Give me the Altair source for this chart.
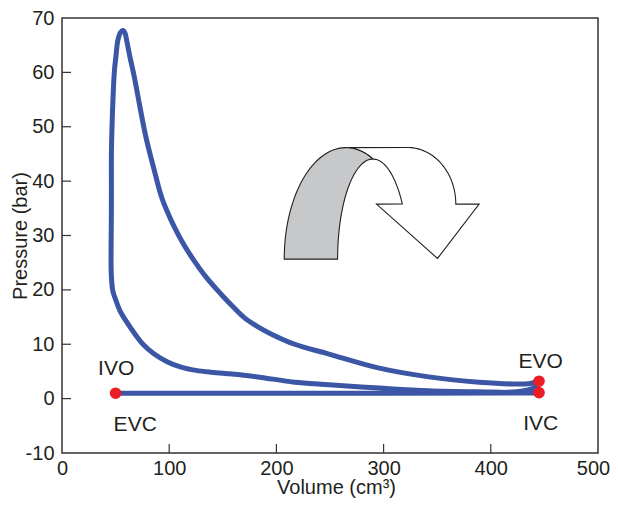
import altair as alt
import numpy as np
import pandas as pd

# ---- data -------------------------------------------------------------
# loop path: IVO -> intake -> IVC -> compression -> combustion peak -> expansion -> EVO -> blowdown -> exhaust -> EVC
volume = [50, 200, 445,
          430, 400, 342, 296, 249, 217, 203, 186, 170, 161, 150, 139, 125, 111, 98, 86, 76, 68, 60, 54,
          49.5, 47.4, 46.2, 45.8, 45.8, 46.0, 46.1, 46.1, 46.8, 48.0, 49.0, 50.5, 52.0, 54.5, 56.7,
          58.8, 60.4, 62.9, 67.6, 72.2, 78.4, 86.2, 93, 100, 105, 114, 123.5, 135, 148.4, 160, 170,
          182, 195, 217, 249, 296, 342, 389, 420, 437, 445,
          443, 438, 430, 415, 390, 300, 200, 50]
pressure = [1.0, 1.0, 1.05,
            1.1, 1.2, 1.45, 1.95, 2.55, 3.0, 3.4, 3.9, 4.3, 4.5, 4.65, 4.85, 5.2, 5.8, 6.8, 8.2, 9.9, 11.9, 14.2, 16.2,
            18.5, 19.8, 22.0, 24.1, 28.0, 32.7, 38.0, 45.0, 51.0, 57.2, 60.5, 63.3, 65.8, 67.3, 67.7,
            67.2, 65.8, 63.3, 59.0, 54.2, 48.0, 41.9, 37.0, 33.6, 31.5, 28.2, 25.3, 22.2, 19.2, 16.8, 14.9,
            13.3, 11.9, 10.0, 8.2, 5.6, 4.0, 3.0, 2.7, 2.8, 3.2,
            2.4, 1.8, 1.4, 1.15, 1.05, 1.0, 1.0, 1.0]

dot_volume = [50, 445, 445]
dot_pressure = [1.0, 3.2, 1.1]

label_text = ["IVO", "EVC", "EVO", "IVC"]
label_volume = [50.5, 68.3, 446.6, 446.6]
label_pressure = [5.4, -4.8, 6.8, -4.6]

x_ticks = [0, 100, 200, 300, 400, 500]
y_ticks = [-10, 0, 10, 20, 30, 40, 50, 60, 70]

# ---- decorative curved arrow (outline built in data units) -----------
def ellipse(cx, cy, rx, ry, t0, t1, n=40):
    t = np.radians(np.linspace(t0, t1, n))
    return list(zip(cx - rx * np.cos(t), cy + ry * np.sin(t)))

go_c, go_r = (264.8, 25.66), (57.5, 20.5)     # gray outer arc
gi_c, gi_r = (290.0, 25.66), (32.9, 18.4)     # inner arc
wo_c, wo_r = (322.3, 35.77), (45.05, 10.42)   # white outer arc

gray_pts = ellipse(*go_c, *go_r, 0, 116) + ellipse(*gi_c, *gi_r, 90, 0)
white_pts = ([(264.8, 46.16)] + ellipse(*wo_c, *wo_r, 90, 180)
             + [(389.1, 35.77), (350.3, 25.78), (293.4, 35.77)]
             + ellipse(*gi_c, *gi_r, 146.6, 90) + ellipse(*go_c, *go_r, 116, 90))

gray_df = pd.DataFrame(gray_pts, columns=["V", "P"]).assign(i=lambda d: range(len(d)))
white_df = pd.DataFrame(white_pts, columns=["V", "P"]).assign(i=lambda d: range(len(d)))

# ---- chart -----------------------------------------------------------
W, H = 536, 435
PAD_L, PAD_T = 54, 10
FONT = "Liberation Sans"
FS = 20
BLUE = "#3a56a5"
RED = "#ec1c24"
INK = "#231f20"

xs = alt.Scale(domain=[0, 500], nice=False, zero=False)
ys = alt.Scale(domain=[-10, 70], nice=False, zero=False)
common = dict(tickSize=0, domain=False, grid=False, labelFont=FONT, labelFontSize=FS, labelColor=INK,
              labelFlush=False, labelOverlap=False, labelExpr="'' + datum.value",
              titleFont=FONT, titleFontSize=FS, titleFontWeight="normal", titleColor=INK,
              titleBaseline="alphabetic")
x_axis = alt.Axis(values=x_ticks, labelPadding=5, title="Volume (cm³)",
                  labelOffset={"expr": "datum.value == 500 ? -5 : 0"},
                  titleX=274, titleY=40.5, titleAlign="center", **common)
y_axis = alt.Axis(values=y_ticks, labelPadding=8, title="Pressure (bar)",
                  titleX=-35.5, titleY=H / 2, titleAngle=270, titleAlign="center", **common)
X = alt.X("V:Q", scale=xs, axis=x_axis)
Y = alt.Y("P:Q", scale=ys, axis=y_axis)

loop_df = pd.DataFrame({"V": volume, "P": pressure, "i": range(len(volume))})
dots_df = pd.DataFrame({"V": dot_volume, "P": dot_pressure})
labels_df = pd.DataFrame({"t": label_text, "V": label_volume, "P": label_pressure})

loop = alt.Chart(loop_df).mark_line(color=BLUE, strokeWidth=5, strokeJoin="round", strokeCap="round",
                                    interpolate="catmull-rom").encode(x=X, y=Y, order="i:Q")

gray = alt.Chart(gray_df).mark_line(interpolate="linear-closed", fill="#c7c8ca", stroke="#231f20",
                                     strokeWidth=1.1).encode(x=X, y=Y, order="i:Q")
white = alt.Chart(white_df).mark_line(interpolate="linear-closed", fill="white", stroke="#231f20",
                                       strokeWidth=1.1).encode(x=X, y=Y, order="i:Q")

dots = alt.Chart(dots_df).mark_circle(color=RED, opacity=1, size=135).encode(x=X, y=Y)

labels = alt.Chart(labels_df).mark_text(font=FONT, fontSize=21, color=INK, baseline="middle",
                                         align="center").encode(x=X, y=Y, text="t:N")

xt_df = pd.DataFrame({"V": x_ticks[1:-1]})
yt_df = pd.DataFrame({"P": y_ticks[1:-1]})
xticks = alt.Chart(xt_df).mark_rule(color="#333333", strokeWidth=1.2).encode(
    x=X, y=alt.value(H), y2=alt.value(H - 9))
yticks = alt.Chart(yt_df).mark_rule(color="#333333", strokeWidth=1.2).encode(
    y=Y, x=alt.value(0), x2=alt.value(9))

chart = alt.layer(white, gray, xticks, yticks, loop, dots, labels).properties(
    width=W, height=H,
    autosize=alt.AutoSizeParams(type="none"),
    padding={"left": PAD_L, "top": PAD_T, "right": 12, "bottom": 45},
).configure_view(stroke="#333333", strokeWidth=1.5)

chart.save("out.html", embed_options={"renderer": "svg", "actions": False})
